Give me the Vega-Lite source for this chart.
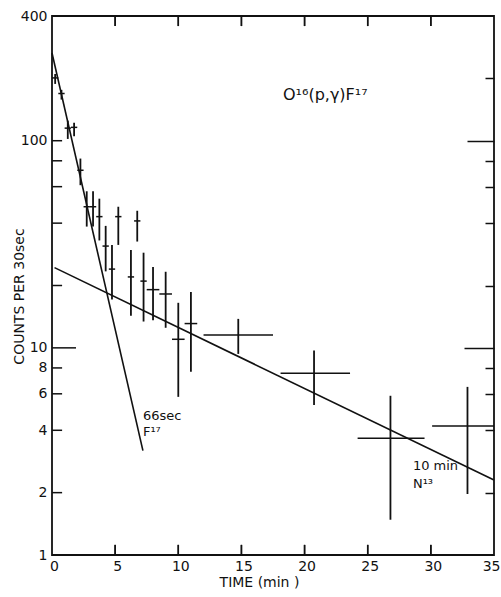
{
  "$schema": "https://vega.github.io/schema/vega-lite/v6.json",
  "width": 442,
  "height": 539,
  "autosize": {"type": "none"},
  "padding": {"left": 52, "top": 16, "right": 7, "bottom": 42},
  "background": "white",
  "config": {
    "view": {"stroke": "#111", "strokeWidth": 1.8},
    "font": "DejaVu Sans",
    "axis": {
      "grid": false,
      "domain": false,
      "labelColor": "#111",
      "titleColor": "#111",
      "tickColor": "#111",
      "tickWidth": 1.5,
      "labelFont": "DejaVu Sans",
      "titleFont": "DejaVu Sans",
      "titleFontWeight": "normal",
      "labelFontSize": 14,
      "titleFontSize": 14
    }
  },
  "datasets": {
    "points": [
      {"t": 0.25, "v": 201, "lo": 188, "hi": 210, "t0": 0.0, "t1": 0.5},
      {"t": 0.75, "v": 169, "lo": 158, "hi": 176, "t0": 0.5, "t1": 1.0},
      {"t": 1.25, "v": 115, "lo": 102, "hi": 125, "t0": 1.0, "t1": 1.5},
      {"t": 1.75, "v": 116, "lo": 105, "hi": 122, "t0": 1.5, "t1": 2.0},
      {"t": 2.25, "v": 72, "lo": 61, "hi": 82, "t0": 2.0, "t1": 2.5},
      {"t": 2.75, "v": 48, "lo": 38.5, "hi": 57, "t0": 2.5, "t1": 3.0},
      {"t": 3.25, "v": 48, "lo": 38.5, "hi": 57, "t0": 3.0, "t1": 3.5},
      {"t": 3.75, "v": 43, "lo": 33, "hi": 52.5, "t0": 3.5, "t1": 4.0},
      {"t": 4.25, "v": 31, "lo": 23.4, "hi": 38.8, "t0": 4.0, "t1": 4.5},
      {"t": 4.75, "v": 24, "lo": 17.1, "hi": 31.4, "t0": 4.5, "t1": 5.0},
      {"t": 5.25, "v": 43, "lo": 31.4, "hi": 48, "t0": 5.0, "t1": 5.5},
      {"t": 6.25, "v": 22, "lo": 14.3, "hi": 29.7, "t0": 6.0, "t1": 6.5},
      {"t": 6.75, "v": 41, "lo": 32.6, "hi": 45.9, "t0": 6.5, "t1": 7.0},
      {"t": 7.25, "v": 21, "lo": 13.4, "hi": 28.8, "t0": 7.0, "t1": 7.5},
      {"t": 8.0, "v": 19.1, "lo": 13.6, "hi": 24.6, "t0": 7.5, "t1": 8.5},
      {"t": 9.0, "v": 18.2, "lo": 12.5, "hi": 23.3, "t0": 8.5, "t1": 9.5},
      {"t": 10.0, "v": 11.0, "lo": 5.8, "hi": 16.5, "t0": 9.5, "t1": 10.5},
      {"t": 11.0, "v": 13.1, "lo": 7.66, "hi": 18.6, "t0": 10.5, "t1": 11.5},
      {"t": 14.75, "v": 11.55, "lo": 9.35, "hi": 13.8, "t0": 12.0, "t1": 17.5},
      {"t": 20.75, "v": 7.55, "lo": 5.3, "hi": 9.7, "t0": 18.1, "t1": 23.6},
      {"t": 26.8, "v": 3.66, "lo": 1.48, "hi": 5.87, "t0": 24.2, "t1": 29.5},
      {"t": 32.9, "v": 4.2, "lo": 1.97, "hi": 6.48, "t0": 30.1, "t1": 35.0}
    ],
    "fits": [
      {"iso": "F17", "t": 0, "c": 265},
      {"iso": "F17", "t": 7.2, "c": 3.19},
      {"iso": "N13", "t": 0.2, "c": 24.4},
      {"iso": "N13", "t": 35, "c": 2.3}
    ],
    "leftTicks": [{"v": 2}, {"v": 4}, {"v": 6}, {"v": 8}, {"v": 20}, {"v": 40}, {"v": 60}, {"v": 80}, {"v": 100}],
    "timeTicks": [{"t": 5}, {"t": 10}, {"t": 15}, {"t": 20}, {"t": 25}, {"t": 30}]
  },
  "layer": [
    {
      "data": {"name": "points"},
      "mark": {"type": "rule", "strokeWidth": 1.8, "color": "#111"},
      "encoding": {
        "x": {
          "field": "t", "type": "quantitative",
          "scale": {"domain": [0, 35], "nice": false, "zero": false},
          "axis": {
            "orient": "bottom",
            "values": [0, 5, 10, 15, 20, 25, 30, 35],
            "ticks": false,
            "labelPadding": 4,
            "labelFlush": false,
            "labelAlign": {"condition": {"test": "datum.value == 35", "value": "right"}, "value": "center"},
            "labelOffset": {"condition": {"test": "datum.value == 35", "value": 6}, "value": 2},
            "title": "TIME (min )",
            "titleX": 207,
            "titleY": 31,
            "titleBaseline": "alphabetic"
          }
        },
        "y": {
          "field": "lo", "type": "quantitative",
          "scale": {"type": "log", "domain": [1, 400], "nice": false},
          "axis": {
            "orient": "left",
            "values": [1, 2, 4, 6, 8, 10, 100, 400],
            "labelExpr": "format(datum.value, 'd')",
            "ticks": false,
            "labelPadding": 5,
            "labelFlush": false,
            "title": "COUNTS PER 30sec",
            "titleX": -29,
            "titleY": 280,
            "titleBaseline": "alphabetic"
          }
        },
        "y2": {"field": "hi"}
      }
    },
    {
      "data": {"name": "points"},
      "mark": {"type": "rule", "strokeWidth": 1.5, "color": "#111"},
      "encoding": {
        "x": {"field": "t0", "type": "quantitative", "scale": {"domain": [0, 35], "nice": false, "zero": false}, "axis": null},
        "x2": {"field": "t1"},
        "y": {
          "field": "v", "type": "quantitative",
          "scale": {"type": "log", "domain": [1, 400], "nice": false},
          "axis": {
            "orient": "right",
            "values": [2, 4, 6, 8, 10, 20, 40, 60, 80, 100, 200],
            "labels": false,
            "tickSize": {"condition": [{"test": "datum.value == 10", "value": -30}, {"test": "datum.value == 100", "value": -27}], "value": -9},
            "title": null
          }
        }
      }
    },
    {
      "data": {"name": "fits"},
      "mark": {"type": "line", "strokeWidth": 1.6, "color": "#111"},
      "encoding": {
        "x": {"field": "t", "type": "quantitative", "scale": {"domain": [0, 35], "nice": false, "zero": false}, "axis": null},
        "y": {"field": "c", "type": "quantitative", "scale": {"type": "log", "domain": [1, 400], "nice": false}, "axis": null},
        "detail": {"field": "iso"}
      }
    },
    {
      "data": {"name": "leftTicks"},
      "mark": {"type": "rule", "strokeWidth": 1.5, "color": "#111"},
      "encoding": {
        "x": {"datum": 0.01, "type": "quantitative", "axis": null},
        "x2": {"datum": 0.8},
        "y": {"field": "v", "type": "quantitative", "axis": null}
      }
    },
    {
      "data": {"values": [{"v": 10}]},
      "mark": {"type": "rule", "strokeWidth": 1.5, "color": "#111"},
      "encoding": {
        "x": {"datum": 0.01, "type": "quantitative", "axis": null},
        "x2": {"datum": 1.9},
        "y": {"field": "v", "type": "quantitative", "axis": null}
      }
    },
    {
      "data": {"name": "timeTicks"},
      "mark": {"type": "rule", "strokeWidth": 1.5, "color": "#111"},
      "encoding": {
        "x": {"field": "t", "type": "quantitative", "axis": null},
        "y": {"datum": 399, "type": "quantitative", "axis": null},
        "y2": {"datum": 358}
      }
    },
    {
      "data": {"name": "timeTicks"},
      "mark": {"type": "tick", "orient": "vertical", "size": 10, "thickness": 1.5, "color": "#111", "opacity": 1},
      "encoding": {
        "x": {"field": "t", "type": "quantitative", "axis": null},
        "y": {"datum": 378, "type": "quantitative", "axis": null}
      }
    },
    {
      "data": {"name": "timeTicks"},
      "mark": {"type": "rule", "strokeWidth": 1.5, "color": "#111"},
      "encoding": {
        "x": {"field": "t", "type": "quantitative", "axis": null},
        "y": {"datum": 1.003, "type": "quantitative", "axis": null},
        "y2": {"datum": 1.12}
      }
    },
    {
      "data": {"name": "timeTicks"},
      "mark": {"type": "tick", "orient": "vertical", "size": 10, "thickness": 1.5, "color": "#111", "opacity": 1},
      "encoding": {
        "x": {"field": "t", "type": "quantitative", "axis": null},
        "y": {"datum": 1.058, "type": "quantitative", "axis": null}
      }
    },
    {
      "data": {"values": [{"t": 18.29, "c": 157, "label": "O¹⁶(p,γ)F¹⁷"}]},
      "mark": {"type": "text", "align": "left", "baseline": "alphabetic", "color": "#111", "fontSize": 16, "font": "DejaVu Sans"},
      "encoding": {
        "x": {"field": "t", "type": "quantitative", "axis": null},
        "y": {"field": "c", "type": "quantitative", "axis": null},
        "text": {"field": "label"}
      }
    },
    {
      "data": {"values": [
        {"t": 7.2, "c": 4.49, "label": "66sec"},
        {"t": 7.2, "c": 3.75, "label": "F¹⁷"},
        {"t": 28.58, "c": 2.57, "label": "10 min"},
        {"t": 28.58, "c": 2.106, "label": "N¹³"}
      ]},
      "mark": {"type": "text", "align": "left", "baseline": "alphabetic", "color": "#111", "fontSize": 13, "font": "DejaVu Sans"},
      "encoding": {
        "x": {"field": "t", "type": "quantitative", "axis": null},
        "y": {"field": "c", "type": "quantitative", "axis": null},
        "text": {"field": "label"}
      }
    }
  ],
  "resolve": {"axis": {"x": "independent", "y": "independent"}}
}
